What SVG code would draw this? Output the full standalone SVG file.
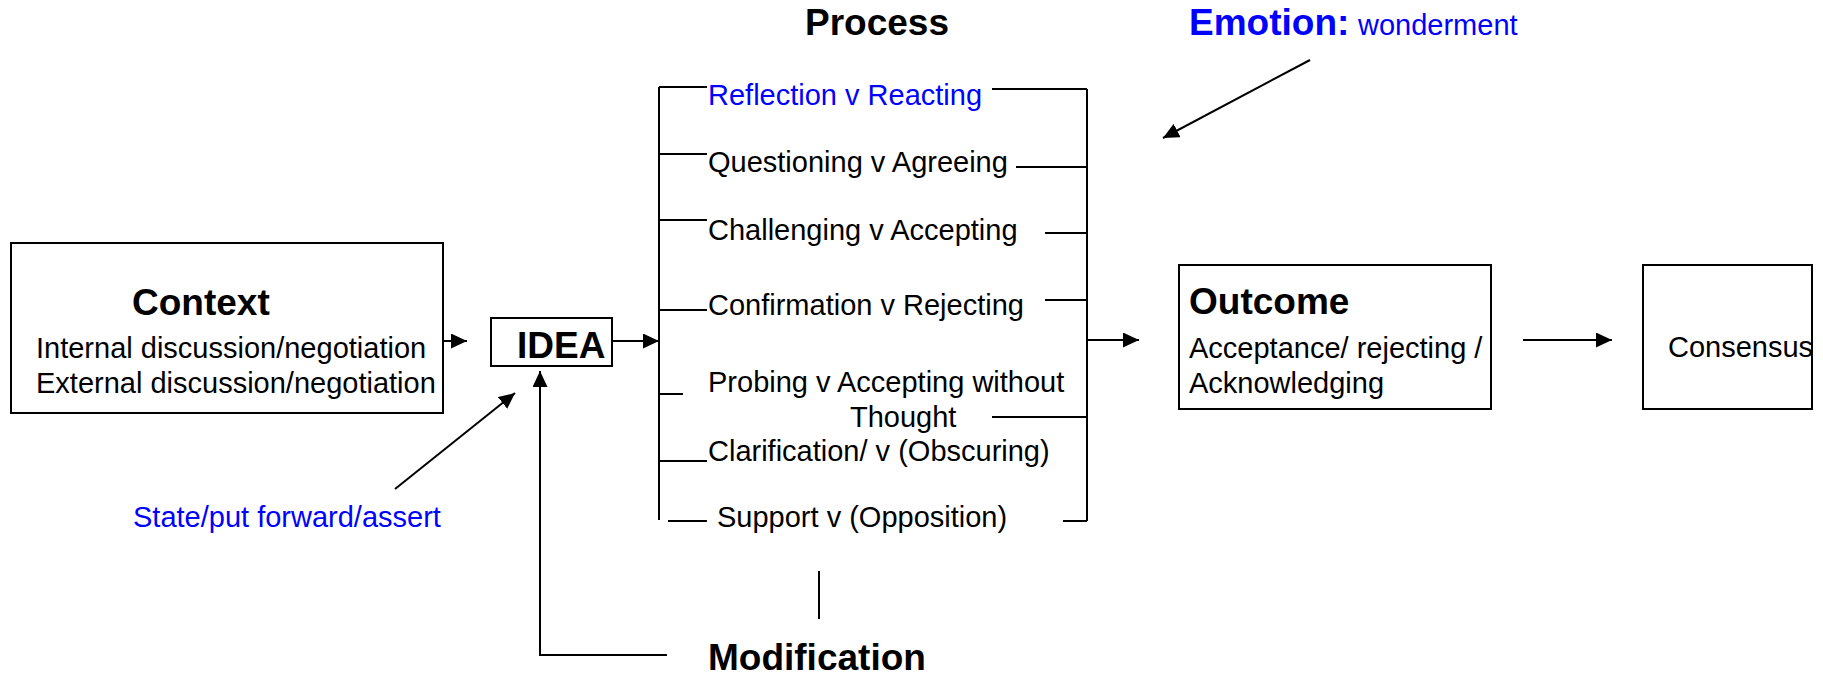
<svg xmlns="http://www.w3.org/2000/svg" width="1823" height="675" viewBox="0 0 1823 675">
  <style>
    text { font-family: "Liberation Sans", Arial, sans-serif; fill: #000; }
    .h { font-weight: bold; font-size: 37px; }
    .t { font-size: 29px; }
    .blue { fill: #0000ff; }
    .box { fill: #fff; stroke: #000; stroke-width: 2; }
    .ln { fill: none; stroke: #000; stroke-width: 2; }
    .arr { fill: none; stroke: #000; stroke-width: 2; marker-end: url(#head); }
  </style>
  <defs>
    <marker id="head" markerUnits="userSpaceOnUse" markerWidth="17" markerHeight="15" refX="16" refY="7.5" orient="auto">
      <path d="M0,0 L16,7.5 L0,15 z" fill="#000"/>
    </marker>
  </defs>
  <rect width="1823" height="675" fill="#fff"/>

  <!-- connectors -->
  <g id="connectors">
    <line class="arr" x1="443" y1="341" x2="467" y2="341"/>
    <line class="arr" x1="612" y1="341" x2="659" y2="341"/>
    <line class="arr" x1="395" y1="489" x2="515" y2="393"/>
    <polyline class="arr" points="667,655 540,655 540,371"/>
    <line class="ln" x1="819" y1="571" x2="819" y2="619"/>
    <line class="arr" x1="1088" y1="340" x2="1139" y2="340"/>
    <line class="arr" x1="1523" y1="340" x2="1612" y2="340"/>
    <line class="arr" x1="1310" y1="60" x2="1163" y2="138"/>
  </g>

  <!-- context -->
  <g id="context">
    <rect class="box" x="11" y="243" width="432" height="170"/>
    <text class="h" x="132" y="315">Context</text>
    <text class="t" x="36" y="358">Internal discussion/negotiation</text>
    <text class="t" x="36" y="393">External discussion/negotiation</text>
  </g>

  <!-- idea -->
  <g id="idea">
    <rect class="box" x="491" y="318" width="121" height="48"/>
    <text class="h" x="517" y="358">IDEA</text>
  </g>

  <g id="state-label">
    <text class="t blue" x="133" y="527">State/put forward/assert</text>
  </g>

  <!-- process -->
  <g id="process">
    <text class="h" x="805" y="35">Process</text>
    <!-- brackets -->
    <path class="ln" d="M659,87 V520"/>
    <path class="ln" d="M1087,89 V521"/>
    <!-- left ticks -->
    <path class="ln" d="M659,87 H707 M659,154 H707 M659,220 H707 M659,310 H707 M659,394 H683 M659,461 H707 M668,521 H707"/>
    <!-- right ticks -->
    <path class="ln" d="M992,89 H1087 M1016,167 H1087 M1045,233 H1087 M1045,300 H1087 M992,417 H1087 M1063,521 H1087"/>
    <text class="t blue" x="708" y="105">Reflection v Reacting</text>
    <text class="t" x="708" y="172">Questioning v Agreeing</text>
    <text class="t" x="708" y="240">Challenging v Accepting</text>
    <text class="t" x="708" y="315">Confirmation v Rejecting</text>
    <text class="t" x="708" y="392">Probing v Accepting without</text>
    <text class="t" x="850" y="427">Thought</text>
    <text class="t" x="708" y="461">Clarification/ v (Obscuring)</text>
    <text class="t" x="717" y="527">Support v (Opposition)</text>
  </g>

  <g id="modification">
    <text class="h" x="708" y="670">Modification</text>
  </g>

  <g id="emotion">
    <text x="1189" y="35"><tspan class="h blue">Emotion:</tspan><tspan class="t blue" x="1358">wonderment</tspan></text>
  </g>

  <!-- outcome -->
  <g id="outcome">
    <rect class="box" x="1179" y="265" width="312" height="144"/>
    <text class="h" x="1189" y="314">Outcome</text>
    <text class="t" x="1189" y="358">Acceptance/ rejecting /</text>
    <text class="t" x="1189" y="393">Acknowledging</text>
  </g>

  <!-- consensus -->
  <g id="consensus">
    <rect class="box" x="1643" y="265" width="169" height="144"/>
    <text class="t" x="1668" y="357">Consensus</text>
  </g>
</svg>
